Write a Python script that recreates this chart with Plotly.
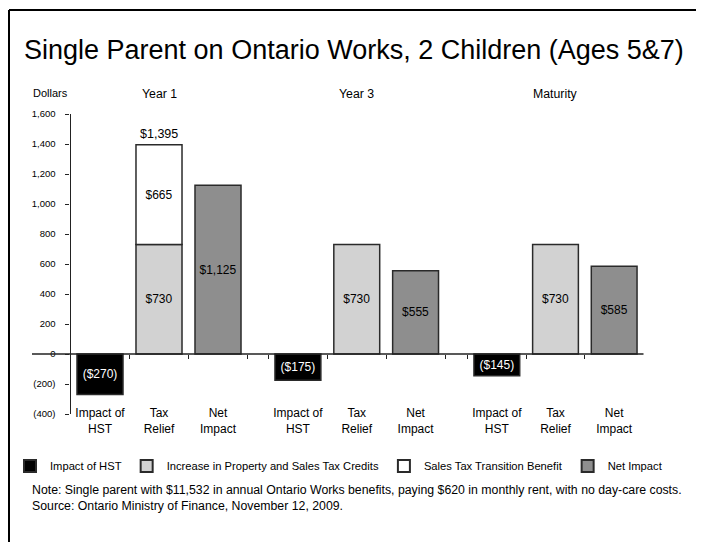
import plotly.graph_objects as go

# ---- data ----
groups = ["Year 1", "Year 3", "Maturity"]
categories = ["Impact of<br>HST", "Tax<br>Relief", "Net<br>Impact"]
impact_hst = [-270, -175, -145]
tax_credits = [730, 730, 730]
transition_benefit = [665, None, None]
net_impact = [1125, 555, 585]
y_tickvals = [-400, -200, 0, 200, 400, 600, 800, 1000, 1200, 1400, 1600]
y_ticktext = ["(400)", "(200)", "0", "200", "400", "600", "800", "1,000", "1,200", "1,400", "1,600"]

FONT = "Liberation Sans"
# the page body has an 8px margin, so the figure is drawn 8px in from the window edge
OFF = 8
W, H = 704 - OFF, 542 - OFF


def px(x):
    return (x - OFF) / W


def py(y):
    return 1 - (y - OFF) / H


def money(v):
    return f"(${abs(v):,})" if v < 0 else f"${v:,}"


fig = go.Figure()
xaxes = ["x", "x2", "x3"]
series = [
    ("Impact of HST", impact_hst, categories[0], "#000000", "white"),
    ("Increase in Property and Sales Tax Credits", tax_credits, categories[1], "#d2d2d2", "black"),
    ("Sales Tax Transition Benefit", transition_benefit, categories[1], "#ffffff", "black"),
    ("Net Impact", net_impact, categories[2], "#8e8e8e", "black"),
]
for name, vals, cat, color, tcolor in series:
    first = True
    for gi, v in enumerate(vals):
        if v is None:
            continue
        fig.add_trace(go.Bar(
            x=[cat], y=[v], name=name, legendgroup=name, showlegend=first,
            xaxis=xaxes[gi], yaxis="y",
            marker=dict(color=color, line=dict(color="#2a2a2a", width=1.5)),
            text=[money(v)], textposition="inside", insidetextanchor="middle",
            constraintext="none",
            textfont=dict(family=FONT, size=12, color=tcolor),
        ))
        first = False

# total label above the stacked Year 1 tax relief bar
total = tax_credits[0] + transition_benefit[0]
annotations = [dict(x=categories[1], y=total, xref="x", yref="y", text=money(total),
                    showarrow=False, yanchor="bottom", yshift=2,
                    font=dict(family=FONT, size=12.5, color="black"))]

# group headings
for gi, g in enumerate(groups):
    annotations.append(dict(x=categories[1], xref=xaxes[gi], y=py(94), yref="paper",
                            text=g, showarrow=False, yanchor="middle",
                            font=dict(family=FONT, size=12.3, color="black")))

annotations += [
    dict(x=px(50), y=py(93), xref="paper", yref="paper", text="Dollars", showarrow=False,
         xanchor="center", yanchor="middle", font=dict(family=FONT, size=11, color="black")),
    dict(x=px(22), y=py(50), xref="paper", yref="paper",
         text="Single Parent on Ontario Works, 2 Children (Ages 5&7)", showarrow=False,
         xanchor="left", yanchor="middle", font=dict(family=FONT, size=27, color="black")),
    dict(x=px(30), y=py(490), xref="paper", yref="paper",
         text="Note: Single parent with $11,532 in annual Ontario Works benefits, paying $620 in monthly rent, with no day-care costs.",
         showarrow=False, xanchor="left", yanchor="middle",
         font=dict(family=FONT, size=12.3, color="black")),
    dict(x=px(30), y=py(506), xref="paper", yref="paper",
         text="Source: Ontario Ministry of Finance, November 12, 2009.",
         showarrow=False, xanchor="left", yanchor="middle",
         font=dict(family=FONT, size=12.3, color="black")),
]

y_bot, y_top = py(414), py(114)
zero_pos = y_bot + (0 - (-400)) / 2000 * (y_top - y_bot)
domains = [(px(70.5), px(247.5)), (px(268.5), px(445)), (px(467.5), px(643.5))]

axis_common = dict(type="category", categoryorder="array", categoryarray=categories,
                   anchor="free", position=zero_pos, showline=False, ticks="outside",
                   tickson="boundaries", ticklen=4, tickcolor="#222", tickwidth=1,
                   showgrid=False, zeroline=False, fixedrange=True, tickangle=0,
                   ticklabelstandoff=50,
                   tickfont=dict(family=FONT, size=12, color="black"))
for i, ax in enumerate(["xaxis", "xaxis2", "xaxis3"]):
    fig.layout[ax] = dict(domain=domains[i], range=[-0.5, 2.5], **axis_common)

fig.update_layout(
    yaxis=dict(domain=[y_bot, y_top], range=[-400, 1600], tickvals=y_tickvals, ticktext=y_ticktext,
               showline=True, linecolor="#222", linewidth=1.2, ticks="outside", ticklen=4,
               tickcolor="#222", showgrid=False, zeroline=False, anchor="x",
               tickfont=dict(family=FONT, size=9.5, color="black"), ticklabelstandoff=8),
    barmode="relative", bargap=0.22,
    width=W, height=H, margin=dict(l=0, r=0, t=0, b=0, autoexpand=False),
    paper_bgcolor="white", plot_bgcolor="white",
    showlegend=True,
    legend=dict(orientation="h", x=px(10), y=py(466), xanchor="left", yanchor="middle",
                font=dict(family=FONT, size=11.2, color="black"), traceorder="normal",
                itemsizing="constant", bgcolor="rgba(0,0,0,0)"),
    annotations=annotations,
    shapes=[
        dict(type="line", xref="paper", yref="y", x0=px(32), x1=px(643.5), y0=0, y1=0,
             line=dict(color="#222", width=1.5)),
        dict(type="line", xref="paper", yref="paper", x0=1 / W, x1=1, y0=py(10), y1=py(10),
             line=dict(color="black", width=2)),
        dict(type="line", xref="paper", yref="paper", x0=1 / W, x1=1 / W, y0=0, y1=py(10),
             line=dict(color="black", width=2)),
    ],
)

fig.write_html("out.html")
